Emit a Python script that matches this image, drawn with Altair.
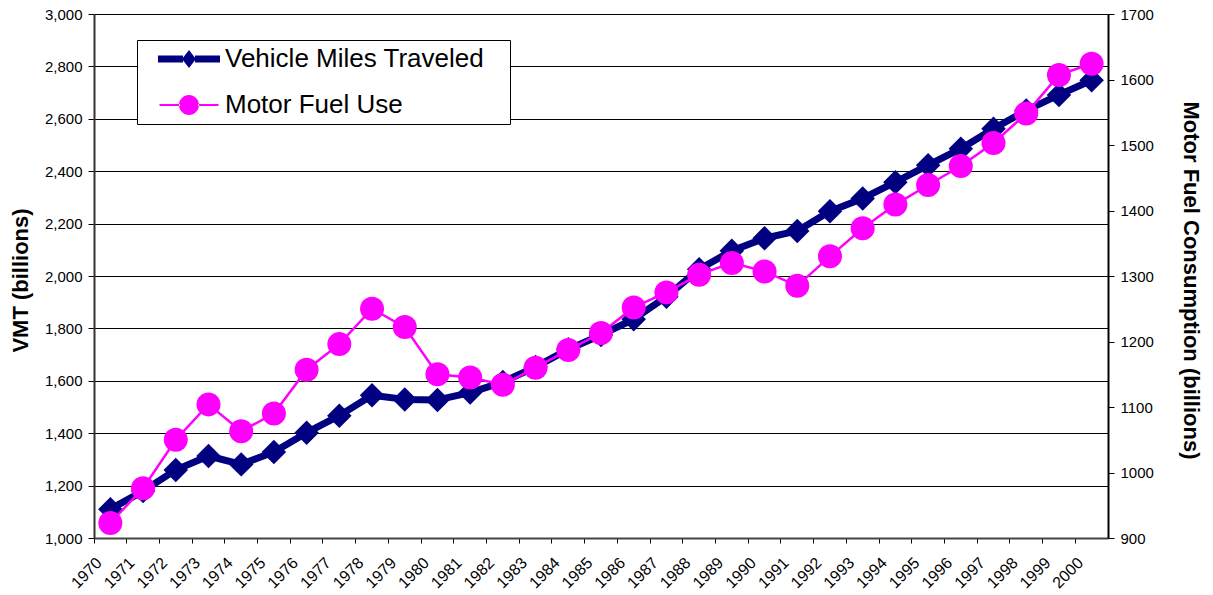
import altair as alt
import pandas as pd

# Annual series, 1970-2000
years = [str(y) for y in range(1970, 2001)]
vmt = [1110, 1179, 1260, 1313, 1281, 1328, 1402, 1467, 1545, 1529,
       1527, 1555, 1595, 1653, 1720, 1775, 1835, 1921, 2026, 2096,
       2144, 2172, 2247, 2296, 2358, 2423, 2486, 2562, 2632, 2691, 2747]
fuel = [923, 976, 1050, 1104, 1063, 1090, 1157, 1196, 1250, 1222,
        1150, 1145, 1134, 1160, 1187, 1213, 1252, 1275, 1302, 1320,
        1307, 1285, 1330, 1373, 1409, 1439, 1468, 1503, 1548, 1607, 1624]

series = ["Vehicle Miles Traveled", "Motor Fuel Use"]
colors = ["#000080", "#FF00FF"]

vmt_ticks = list(range(1000, 3001, 200))
fuel_ticks = list(range(900, 1701, 100))

df = pd.DataFrame({"year": years, "vmt": vmt, "fuel": fuel})
key_df = pd.DataFrame({"series": series})

FONT = "Liberation Sans"

# Legend glyphs: line segment plus marker, in unit coordinates
vmt_glyph = ("M-3.1,-0.35L-0.6,-0.35L-0.6,0.35L-3.1,0.35Z "
             "M0.6,-0.35L3.1,-0.35L3.1,0.35L0.6,0.35Z "
             "M-0.7,0L0,-0.9L0.7,0L0,0.9Z")
fuel_glyph = ("M-2.95,-0.11L-0.9,-0.11L-0.9,0.11L-2.95,0.11Z "
              "M0.9,-0.11L2.95,-0.11L2.95,0.11L0.9,0.11Z "
              "M-1,0A1,1 0 1,0 1,0A1,1 0 1,0 -1,0Z")

x_enc = alt.X(
    "year:O",
    sort=years,
    scale=alt.Scale(type="band", paddingInner=0, paddingOuter=0),
    axis=alt.Axis(
        title=None, labelAngle=-45, labelAlign="right", labelBaseline="middle",
        bandPosition=0, labelOffset=-11, labelPadding=17, tickSize=5,
        labelFontSize=16, labelFont=FONT, labelColor="#000",
        domainColor="#444", domainWidth=2, tickColor="#000",
        labelOverlap=False,
    ),
)

y_vmt = alt.Y(
    "vmt:Q",
    scale=alt.Scale(domain=[1000, 3000], nice=False, zero=False),
    axis=alt.Axis(
        title="VMT (billions)", orient="left", values=vmt_ticks, format=",d",
        grid=True, gridColor="#000", gridWidth=1, tickSize=6,
        labelFontSize=15, labelFont=FONT, labelColor="#000", labelPadding=6,
        domainColor="#333", domainWidth=2, tickColor="#000",
        titleFontSize=22, titleFont=FONT, titleFontWeight="bold", titleColor="#000",
        titleX=-74, titleY=266, titleBaseline="middle",
    ),
)

y_fuel = alt.Y(
    "fuel:Q",
    scale=alt.Scale(domain=[900, 1700], nice=False, zero=False),
    axis=alt.Axis(
        title="Motor Fuel Consumption (billions)", orient="right",
        values=fuel_ticks, format="d", grid=False, tickSize=6,
        labelFontSize=15, labelFont=FONT, labelColor="#000", labelPadding=6,
        domainColor="#000", domainWidth=2, tickColor="#000",
        titleFontSize=22, titleFont=FONT, titleFontWeight="bold", titleColor="#000",
        titleX=82, titleY=266, titleBaseline="middle",
    ),
)

# Blank braille cells pad the key's right margin
legend = alt.Legend(
    title=None, orient="none", legendX=43, legendY=26,
    direction="vertical", labelFontSize=26, labelFont=FONT, labelColor="#000",
    labelLimit=0, labelExpr="datum.label + '\u2800'",
    strokeColor="#000", fillColor="#fff", padding=6,
    symbolSize=400, labelOffset=23, rowPadding=20, symbolOffset=33,
    symbolStrokeWidth=0, symbolOpacity=1,
)

base = alt.Chart(df).encode(x=x_enc)

vmt_line = base.mark_line(color=colors[0], strokeWidth=7, strokeJoin="round").encode(y=y_vmt)
vmt_pts = base.mark_point(shape="diamond", filled=True, size=600, opacity=1,
                          color=colors[0]).encode(y=y_vmt)

fuel_line = base.mark_line(color=colors[1], strokeWidth=2.5).encode(y=y_fuel)
fuel_pts = base.mark_point(shape="circle", filled=True, size=576, opacity=1,
                           color=colors[1]).encode(y=y_fuel)

# Key: draws no marks itself, only carries the colour/shape legend
key = (
    alt.Chart(key_df)
    .transform_filter("false")
    .mark_point(filled=True, size=400, opacity=1)
    .encode(
        color=alt.Color("series:N", scale=alt.Scale(domain=series, range=colors), legend=legend),
        shape=alt.Shape("series:N", scale=alt.Scale(domain=series, range=[vmt_glyph, fuel_glyph]),
                        legend=legend),
    )
)

left = alt.layer(vmt_line, vmt_pts, key)
right = alt.layer(fuel_line, fuel_pts)

chart = (
    alt.layer(left, right)
    .resolve_scale(y="independent")
    .properties(
        width=1014, height=524,
        padding={"left": 94, "top": 14, "right": 105, "bottom": 57},
        autosize=alt.AutoSizeParams(type="none"),
        background="#ffffff",
    )
    .configure_view(stroke=None)
)

chart.save("out.html", embed_options={"renderer": "svg", "actions": False})
